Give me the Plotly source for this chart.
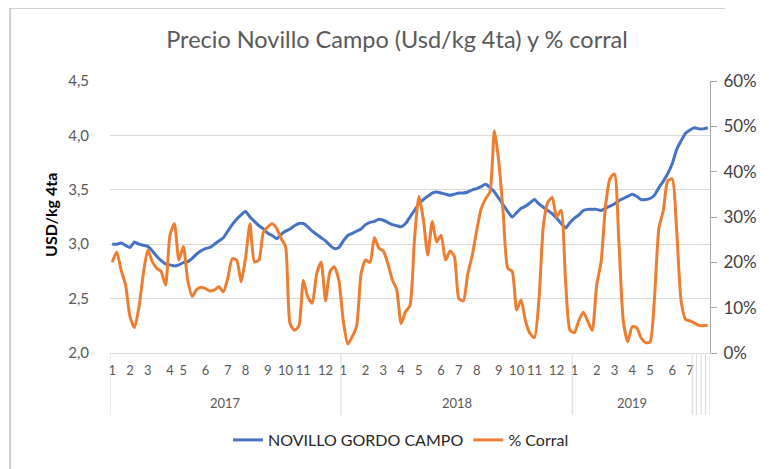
import plotly.graph_objects as go

# ---- category structure (weekly data, grouped by month and year) ----
years = ["2017", "2018", "2019", "", "", "", ""]
months_2017 = ["1", "2", "3", "4", "5", "6", "7", "8", "9", "10", "11", "12"]
months_2018 = ["1", "2", "3", "4", "5", "6", "7", "8", "9", "10", "11", "12"]
months_2019 = ["1", "2", "3", "4", "5", "6", "7"]
weeks_2017 = [4, 4, 5, 3, 5, 5, 4, 5, 4, 4, 5, 4]
weeks_2018 = [5, 4, 4, 4, 5, 4, 4, 5, 4, 4, 5, 4]
weeks_2019 = [5, 4, 4, 4, 5, 4, 1]
tail_months = [""]
tail_weeks = [1]

# ---- series (weekly) ----
price = [3.00, 3.00, 3.01, 2.99, 2.97, 3.02, 3.00, 2.99, 2.98, 2.94,
         2.89, 2.85, 2.82, 2.81, 2.80, 2.81, 2.83, 2.84, 2.87, 2.91,
         2.94, 2.96, 2.97, 3.00, 3.03, 3.06, 3.12, 3.18, 3.23, 3.27,
         3.30, 3.25, 3.21, 3.17, 3.14, 3.10, 3.08, 3.05, 3.09, 3.12,
         3.14, 3.17, 3.19, 3.19, 3.16, 3.12, 3.09, 3.06, 3.03, 2.99,
         2.96, 2.97, 3.03, 3.08, 3.10, 3.12, 3.14, 3.18, 3.20, 3.21,
         3.23, 3.22, 3.20, 3.18, 3.17, 3.16, 3.19, 3.25, 3.31, 3.37,
         3.41, 3.44, 3.47, 3.48, 3.47, 3.46, 3.45, 3.46, 3.47, 3.47,
         3.48, 3.50, 3.51, 3.53, 3.55, 3.52, 3.48, 3.42, 3.36, 3.30,
         3.25, 3.29, 3.33, 3.35, 3.38, 3.41, 3.37, 3.34, 3.31, 3.28,
         3.24, 3.19, 3.15, 3.20, 3.24, 3.27, 3.31, 3.32, 3.32, 3.32,
         3.31, 3.33, 3.35, 3.37, 3.40, 3.42, 3.44, 3.46, 3.44, 3.41,
         3.41, 3.42, 3.45, 3.52, 3.58, 3.65, 3.74, 3.87, 3.95, 4.02,
         4.05, 4.07, 4.06, 4.06, 4.07]

corral = [20.0, 22.3, 18.3, 15.0, 8.0, 5.6, 10.0, 17.5, 22.7, 20.2,
          18.7, 18.0, 15.0, 26.0, 28.5, 20.5, 23.5, 16.0, 12.5, 14.0,
          14.5, 14.2, 13.7, 13.9, 14.6, 13.5, 16.5, 20.8, 20.5, 15.7,
          21.0, 28.5, 20.1, 20.5, 26.6, 27.8, 28.5, 27.5, 25.3, 23.5,
          6.5, 5.0, 6.0, 16.0, 12.4, 11.0, 17.5, 20.0, 11.5, 18.0,
          19.0, 16.0, 7.0, 2.0, 3.6, 6.0, 17.5, 20.5, 20.0, 25.5,
          23.1, 22.5, 19.8, 16.2, 14.0, 6.5, 9.1, 10.5, 25.0, 34.5,
          29.5, 21.6, 29.0, 24.5, 26.0, 20.5, 22.5, 21.2, 12.0, 11.5,
          17.5, 21.5, 27.0, 31.8, 34.0, 35.6, 49.0, 42.0, 30.5, 18.7,
          18.0, 9.5, 11.7, 7.0, 4.3, 3.4, 11.5, 28.0, 33.2, 34.3,
          30.0, 31.5, 16.0, 5.0, 4.5, 7.2, 9.0, 7.0, 5.0, 15.0,
          20.1, 32.5, 38.5, 39.5, 24.5, 7.0, 2.5, 5.8, 5.6, 3.3,
          2.3, 2.4, 12.0, 27.5, 31.5, 38.0, 38.4, 27.0, 11.5, 7.4,
          7.1, 6.6, 6.1, 6.0, 6.1]

left_ticks = [2.0, 2.5, 3.0, 3.5, 4.0, 4.5]
right_ticks = [0, 10, 20, 30, 40, 50, 60]
right_labels = ["0%", "10%", "20%", "30%", "40%", "50%", "60%"]

# ---- build the two-level category axis ----
month_groups = [months_2017, months_2018, months_2019, tail_months, tail_months, tail_months, tail_months]
week_groups = [weeks_2017, weeks_2018, weeks_2019, tail_weeks, tail_weeks, tail_weeks, tail_weeks]

tickvals, ticktext = [], []
boundaries = [-0.5]
year_centers = []
i = 0
for yr, ms, ws in zip(years, month_groups, week_groups):
    start = i
    for m, w in zip(ms, ws):
        if m:
            tickvals.append(i)
            ticktext.append(m)
        i += w
    boundaries.append(i - 0.5)
    year_centers.append(((start + i) / 2 - 0.5, yr))
n = i
x = list(range(n))

FONT = "Lato, 'Liberation Sans', sans-serif"
GRAY = "#595959"

# page has an 8px body margin; figure occupies page pixels 8..769 / 8..469
OFF = 8
W, H = 769 - OFF, 469 - OFF

fig = go.Figure()
fig.add_trace(go.Scatter(
    x=x, y=price, name="NOVILLO GORDO CAMPO", mode="lines",
    line=dict(color="#4472C4", width=3, shape="spline", smoothing=0.6),
))
fig.add_trace(go.Scatter(
    x=x, y=corral, name="% Corral", mode="lines", yaxis="y2",
    line=dict(color="#ED7D31", width=3, shape="spline", smoothing=0.6),
))

# plot area spans page pixels x 110..710, y 81..353
H_PLOT = 272.0
def py(pix):
    return (353 - pix) / H_PLOT
def px(pix):
    return (pix - 110) / 600.0

shapes = []
for b in boundaries:
    shapes.append(dict(type="line", xref="x", yref="paper", x0=b, x1=b, y0=0, y1=py(415),
                       line=dict(color="#d9d9d9", width=1)))
# outer chart border (left and top)
shapes.append(dict(type="line", xref="paper", yref="paper", x0=px(10), x1=px(10), y0=py(469), y1=py(8),
                   line=dict(color="#a0a0a0", width=1)))
shapes.append(dict(type="line", xref="paper", yref="paper", x0=px(10), x1=px(725), y0=py(8), y1=py(8),
                   line=dict(color="#a0a0a0", width=1)))

annotations = []
for cx, yr in year_centers:
    if yr:
        annotations.append(dict(x=cx, y=py(403), xref="x", yref="paper", text=yr, showarrow=False,
                                font=dict(family=FONT, size=13, color=GRAY), xanchor="center", yanchor="middle"))
annotations.append(dict(x=px(50), y=py(215), xref="paper", yref="paper", text="<b>USD/kg 4ta</b>",
                        textangle=-90, showarrow=False, font=dict(family=FONT, size=16, color="#000000"),
                        xanchor="center", yanchor="middle"))

fig.update_layout(
    width=W, height=H,
    margin=dict(l=110 - OFF, r=W - (710 - OFF), t=81 - OFF, b=H - (353 - OFF)),
    paper_bgcolor="white", plot_bgcolor="white",
    separators=",.",
    font=dict(family=FONT, color=GRAY),
    title=dict(text="Precio Novillo Campo (Usd/kg 4ta) y % corral",
               x=(397 - OFF) / W, xref="container", xanchor="center",
               y=1 - (40 - OFF) / H, yref="container", yanchor="middle",
               font=dict(family=FONT, size=23.5, color=GRAY)),
    xaxis=dict(range=[-0.5, n - 0.5], tickmode="array", tickvals=tickvals, ticktext=ticktext,
               showgrid=False, zeroline=False, showline=True, linecolor="#d9d9d9", linewidth=1,
               ticks="", tickfont=dict(family=FONT, size=13, color=GRAY), ticklabelstandoff=5,
               fixedrange=True),
    yaxis=dict(range=[2.0, 4.5], tickmode="array", tickvals=left_ticks, tickformat=".1f",
               showgrid=True, gridcolor="#d9d9d9", gridwidth=1, zeroline=False, showline=False,
               ticks="", tickfont=dict(family=FONT, size=15, color=GRAY), ticklabelstandoff=20,
               fixedrange=True),
    yaxis2=dict(range=[0, 60], overlaying="y", side="right", tickmode="array", tickvals=right_ticks,
                ticktext=right_labels, showgrid=False, zeroline=False, showline=True, linecolor="#a6a6a6",
                linewidth=1, ticks="outside", ticklen=6, tickcolor="#a6a6a6",
                tickfont=dict(family=FONT, size=17, color="#404040"), ticklabelstandoff=3,
                fixedrange=True),
    legend=dict(orientation="h", x=px(401), xanchor="center", y=py(440), yanchor="middle",
                font=dict(family=FONT, size=16, color="#262626"), bgcolor="rgba(0,0,0,0)"),
    shapes=shapes,
    annotations=annotations,
)

fig.write_html("out.html")
